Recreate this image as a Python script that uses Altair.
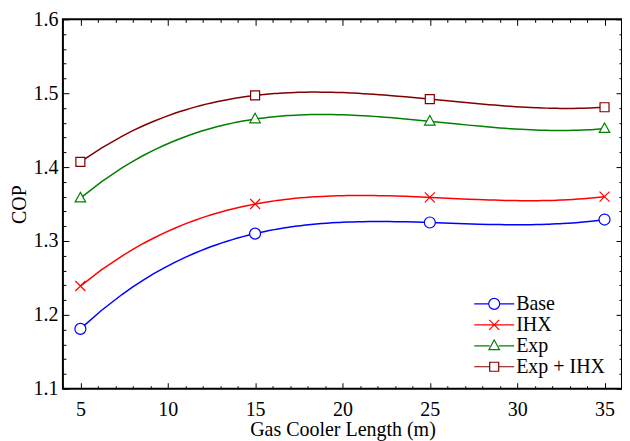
import altair as alt
import pandas as pd

# ---- data ----
lengths = [5, 15, 25, 35]
series = ["Base", "IHX", "Exp", "Exp + IHX"]
base = [1.181, 1.310, 1.325, 1.329]
ihx = [1.239, 1.350, 1.359, 1.360]
exp = [1.358, 1.465, 1.462, 1.452]
exp_ihx = [1.407, 1.497, 1.492, 1.481]
colors = ["#0000ff", "#ff0000", "#008000", "#800000"]

x_major = [5, 10, 15, 20, 25, 30, 35]
x_minor = [v for v in range(4, 37) if v % 5 != 0]
y_major = [1.1, 1.2, 1.3, 1.4, 1.5, 1.6]
y_minor = [round(1.1 + 0.02 * i, 2) for i in range(26) if i % 5 != 0]

rows = []
for name, vals in zip(series, [base, ihx, exp, exp_ihx]):
    for x, y in zip(lengths, vals):
        rows.append({"L": x, "COP": y, "series": name})
df = pd.DataFrame(rows)

W, H = 560, 370
FONT = "Liberation Serif"
FS = 20

# marker paths (unit coords, scaled by sqrt(size)/2)
k = round(0.5523 * 1.1, 4)
r = 1.1
circle = (f"M{-r},0C{-r},{-k},{-k},{-r},0,{-r}C{k},{-r},{r},{-k},{r},0"
          f"C{r},{k},{k},{r},0,{r}C{-k},{r},{-r},{k},{-r},0Z")
xmark = "M-1,-1L1,1M-1,1L1,-1"
tri = "M0,-1.15L1.05,0.75L-1.05,0.75Z"
square = "M-0.9,-0.9H0.9V0.9H-0.9Z"
markers = [circle, xmark, tri, square]
leg_markers = [
    "M-4,0H-1.1M1.1,0H4" + circle,
    "M-4,0H4" + xmark,
    "M-4,0H-0.9M0.9,0H4" + tri,
    "M-4,0H-0.9M0.9,0H4" + square,
]

xs = alt.Scale(domain=[4, 36], nice=False, zero=False)
ys = alt.Scale(domain=[1.1, 1.6], nice=False, zero=False)


def cs():
    return alt.Scale(domain=series, range=colors)


def tick_axis(orient, offset, values, size):
    return alt.Axis(orient=orient, offset=offset, values=values, tickSize=size,
                    labels=False, domain=False, grid=False, title=None,
                    ticks=True, tickColor="black", tickWidth=1)


# smooth curve: cubic polynomial through the four points of each series
lines = alt.Chart(df).transform_regression(
    "L", "COP", groupby=["series"], method="poly", order=3, extent=[5, 35]
).mark_line(strokeWidth=1.5).encode(
    x=alt.X("L:Q", scale=xs, axis=alt.Axis(
        orient="bottom", values=x_major, ticks=False, tickSize=0, domain=False,
        grid=False, labelPadding=11, title="Gas Cooler Length (m)",
        titlePadding=0, format="d", labelFont=FONT, labelFontSize=FS,
        titleFont=FONT, titleFontSize=FS, labelColor="black",
        titleColor="black", titleFontWeight="normal")),
    y=alt.Y("COP:Q", scale=ys, axis=alt.Axis(
        orient="left", values=y_major, ticks=False, tickSize=0, domain=False,
        grid=False, labelPadding=5, title="COP", titlePadding=3, format=".1f",
        labelFont=FONT, labelFontSize=FS, titleFont=FONT, titleFontSize=FS,
        labelColor="black", titleColor="black", titleFontWeight="normal")),
    stroke=alt.Stroke("series:N", scale=cs(), legend=None),
    detail="series:N",
)

points = alt.Chart(df).mark_point(size=100, strokeWidth=1.2, opacity=1).encode(
    x=alt.X("L:Q", scale=xs, axis=tick_axis("top", -H, x_major, 6)),
    y=alt.Y("COP:Q", scale=ys, axis=tick_axis("right", -W, y_major, 6)),
    stroke=alt.Stroke("series:N", scale=cs(), legend=None),
    shape=alt.Shape("series:N", scale=alt.Scale(domain=series, range=markers),
                    legend=None),
    fill=alt.value("white"),
)


def ghost(xa, ya):
    return alt.Chart(df).mark_point(opacity=0).encode(
        x=alt.X("L:Q", scale=xs, axis=xa),
        y=alt.Y("COP:Q", scale=ys, axis=ya),
    )


g1 = ghost(tick_axis("top", -H, x_minor, 3), tick_axis("right", -W, y_minor, 3))
g2 = ghost(tick_axis("bottom", -H, x_major, 6), tick_axis("left", -W, y_major, 6))
g3 = ghost(tick_axis("bottom", -H, x_minor, 3), tick_axis("left", -W, y_minor, 3))


def leg():
    return alt.Legend(
        title=None, orient="none", legendX=422, legendY=275,
        labelFont=FONT, labelFontSize=FS, labelColor="black",
        symbolSize=100, labelOffset=12, rowPadding=1, padding=0,
        symbolStrokeWidth=1.2, symbolFillColor="white", symbolOpacity=1)


legend_layer = alt.Chart(df).transform_filter("false").mark_point(
    strokeWidth=1.2, opacity=1).encode(
    stroke=alt.Stroke("series:N", scale=cs(), legend=leg()),
    shape=alt.Shape("series:N", scale=alt.Scale(domain=series, range=leg_markers),
                    legend=leg()),
    fill=alt.value("white"),
)

chart = alt.layer(lines, g1, g2, g3, points, legend_layer).resolve_axis(
    x="independent", y="independent"
).resolve_scale(shape="independent", stroke="independent").properties(
    width=W, height=H,
    autosize=alt.AutoSizeParams(type="none"),
    padding={"left": 55, "top": 11, "right": 0, "bottom": 52},
).configure_view(stroke="black", strokeWidth=2).configure_axis(
    labelFont=FONT, titleFont=FONT, labelFontSize=FS, titleFontSize=FS,
    labelColor="black", titleColor="black", titleFontWeight="normal",
)

chart.save("out.html", embed_options={"renderer": "svg", "actions": False})
